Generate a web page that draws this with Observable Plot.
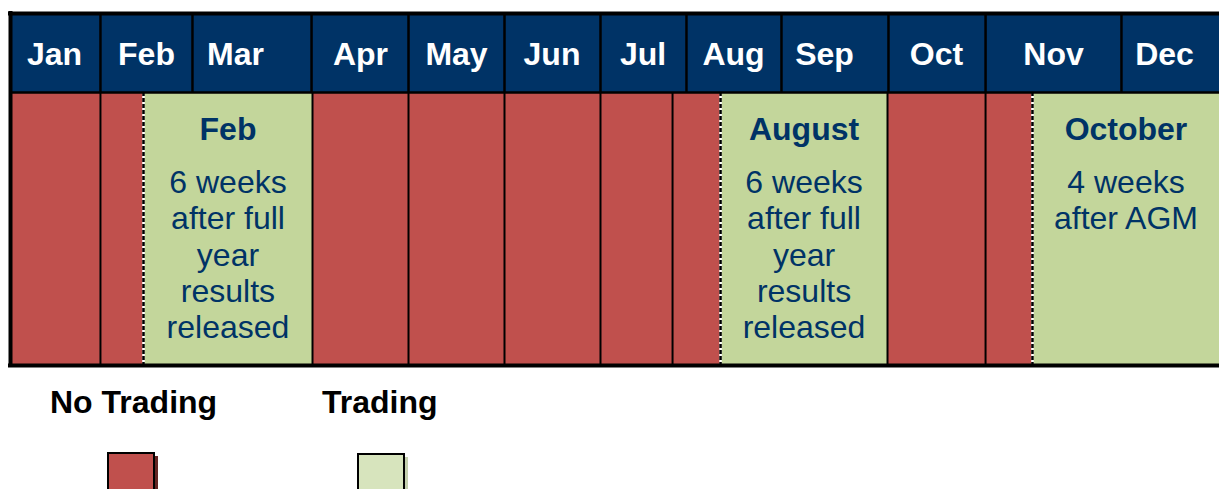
<!DOCTYPE html>
<html>
<head>
<meta charset="utf-8">
<script src="https://cdn.jsdelivr.net/npm/d3@7"></script>
<script src="https://cdn.jsdelivr.net/npm/@observablehq/plot@0.6"></script>
<style>
  html, body { margin: 0; padding: 0; background: #fff; }
  #wrap { position: relative; width: 1219px; height: 489px; overflow: hidden; font-family: "Liberation Sans", Arial, sans-serif; }
  #chart svg { display: block; }
  .lg-label { position: absolute; font-size: 32px; font-weight: bold; line-height: 1; color: #000; white-space: nowrap; }
  .lg-swatch { position: absolute; width: 48px; height: 44px; box-sizing: border-box; border: 2px solid #000; }
</style>
</head>
<body>
<div id="wrap">
  <div id="chart"></div>
  <div id="legend"></div>
</div>
<script>
// ---- Data (timeline positions in % of the calendar width) ----
const months = ["Jan", "Feb", "Mar", "Apr", "May", "Jun", "Jul", "Aug", "Sep", "Oct", "Nov", "Dec"];
const monthStart = [0, 7.44, 15.05, 24.90, 32.92, 40.86, 48.80, 55.91, 63.77, 72.62, 80.65, 91.89];
const monthEnd = [7.44, 15.05, 24.90, 32.92, 40.86, 48.80, 55.91, 63.77, 72.62, 80.65, 91.89, 100];
const monthLabelAt = [3.64, 11.25, 18.61, 28.95, 36.89, 44.79, 52.32, 59.80, 67.33, 76.59, 86.27, 95.45];

const periodStart = [0, 7.44, 11.00, 24.98, 32.92, 40.86, 48.80, 54.76, 58.73, 72.54, 80.65, 84.53];
const periodEnd = [7.44, 11.00, 24.98, 32.92, 40.86, 48.80, 54.76, 58.73, 72.54, 80.65, 84.53, 100];
const periodStatus = ["No Trading", "No Trading", "Trading", "No Trading", "No Trading", "No Trading",
                      "No Trading", "No Trading", "Trading", "No Trading", "No Trading", "Trading"];

const windowTitles = ["Feb", "August", "October"];
const windowNotes = [
  "6 weeks\nafter full\nyear\nresults\nreleased",
  "6 weeks\nafter full\nyear\nresults\nreleased",
  "4 weeks\nafter AGM"
];
const statusNames = ["No Trading", "Trading"];

// ---- Layout / style constants ----
const NAVY = "#003366", RED = "#c0504d", GREEN = "#c3d69b", LEGEND_GREEN = "#d7e4bd";
const HEADER_H = 79, TOTAL_H = 352;
const FONT = "Liberation Sans, Arial, sans-serif";

// ---- Derived tables ----
const monthTable = months.map((m, i) => ({month: m, start: monthStart[i], end: monthEnd[i], at: monthLabelAt[i]}));
const periods = periodStatus.map((s, i) => ({status: s, start: periodStart[i], end: periodEnd[i]}));
const windows = periods.filter(p => p.status === "Trading").map((p, i) => ({
  ...p, mid: (p.start + p.end) / 2, title: windowTitles[i], note: windowNotes[i]
}));
const windowStarts = windows.map(w => w.start);
const solidBody = periods.slice(1).map(p => p.start).filter(v => !windowStarts.includes(v));
const headerLines = monthTable.slice(1).map(m => m.start);

const chart = Plot.plot({
  width: 1219,
  height: 370,
  marginLeft: 10,
  marginRight: 0,
  marginTop: 13,
  marginBottom: 5,
  x: {domain: [0, 100], axis: null},
  y: {domain: [0, TOTAL_H], reverse: true, axis: null},
  color: {domain: statusNames, range: [RED, GREEN]},
  style: {fontFamily: FONT, background: "white"},
  marks: [
    // header cells
    Plot.rect(monthTable, {x1: "start", x2: "end", y1: 0, y2: HEADER_H, fill: NAVY}),
    // body periods
    Plot.rect(periods, {x1: "start", x2: "end", y1: HEADER_H, y2: TOTAL_H, fill: "status"}),
    // header dividers
    Plot.ruleX(headerLines, {y1: 0, y2: HEADER_H, stroke: "#000", strokeWidth: 2.5}),
    // body solid dividers
    Plot.ruleX(solidBody, {y1: HEADER_H, y2: TOTAL_H, stroke: "#000", strokeWidth: 2}),
    // dashed window starts
    Plot.ruleX(windowStarts, {y1: HEADER_H, y2: TOTAL_H, stroke: "#fff", strokeWidth: 2.5}),
    Plot.ruleX(windowStarts, {y1: HEADER_H, y2: TOTAL_H, stroke: "#000", strokeWidth: 2.5, strokeDasharray: "4,2"}),
    // header / body separator
    Plot.ruleY([HEADER_H], {x1: 0, x2: 100, stroke: "#000", strokeWidth: 2.5}),
    // outer frame (right edge cut off by the picture)
    Plot.ruleY([0, TOTAL_H], {x1: 0, x2: 100, stroke: "#000", strokeWidth: 4, strokeLinecap: "square"}),
    Plot.ruleX([0], {y1: 0, y2: TOTAL_H, stroke: "#000", strokeWidth: 4, strokeLinecap: "square"}),
    // month labels
    Plot.text(monthTable, {x: "at", y: HEADER_H / 2, dy: 2, text: "month", fill: "#fff",
      fontSize: 32, fontWeight: "bold", fontFamily: FONT}),
    // window titles
    Plot.text(windows, {x: "mid", y: HEADER_H, dy: 24.8, text: "title", lineAnchor: "top", fill: NAVY,
      fontSize: 32, fontWeight: "bold", fontFamily: FONT}),
    // window notes
    Plot.text(windows, {x: "mid", y: HEADER_H, dy: 74.8, text: "note", lineAnchor: "top", lineHeight: 1.133,
      fill: NAVY, fontSize: 32, fontFamily: FONT})
  ]
});
document.getElementById("chart").append(chart);

// ---- Legend (HTML, below the SVG) ----
const legendSpec = [
  {name: statusNames[0], fill: RED, shadow: "#632523", labelLeft: 50, swLeft: 107, swTop: 452},
  {name: statusNames[1], fill: LEGEND_GREEN, shadow: "#c4cfae", labelLeft: 322, swLeft: 357, swTop: 453}
];
const legend = document.getElementById("legend");
for (const item of legendSpec) {
  const lab = document.createElement("div");
  lab.className = "lg-label";
  lab.textContent = item.name;
  lab.style.left = item.labelLeft + "px";
  lab.style.top = "386px";
  legend.append(lab);
  const sw = document.createElement("div");
  sw.className = "lg-swatch";
  sw.style.left = item.swLeft + "px";
  sw.style.top = item.swTop + "px";
  sw.style.background = item.fill;
  sw.style.boxShadow = `3px 4px 0 ${item.shadow}`;
  legend.append(sw);
}
</script>
</body>
</html>
